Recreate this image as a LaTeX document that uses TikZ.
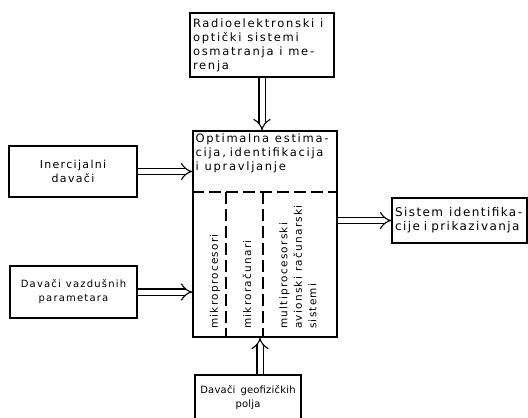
\documentclass[tikz,border=0pt]{standalone}
\usepackage{fontspec}
\newfontfamily\diafont[LetterSpace=12]{DejaVu Sans}
\newfontfamily\diafontsiroki[LetterSpace=15]{DejaVu Sans}
\newfontfamily\diafontuzak[LetterSpace=2]{DejaVu Sans}
\usetikzlibrary{arrows.meta, positioning}

\tikzset{
  tekst/.style={font=\diafont\fontsize{#1}{14}\selectfont},
  siroki/.style={font=\diafontsiroki\fontsize{#1}{14}\selectfont},
  blok/.style={draw, line width=1.2pt, inner sep=3pt, tekst=11},
  tok/.style={double, double distance=5pt, line width=1.1pt, -{Implies}},
  crta/.style={line width=1.2pt, dash pattern=on 12pt off 5pt},
  natpis/.style={rotate=90, anchor=west, align=left, inner sep=0pt,
    font=\diafont\fontsize{10.5}{14.5}\selectfont}
}

\begin{document}
\begin{tikzpicture}[x=1pt, y=-1pt]
  \useasboundingbox (0,0) rectangle (528,418);

  % blokovi
  \node[blok, siroki=11.5, text width=138pt, minimum height=64pt, align=left] (radio) at (262,45)
    {Radioelektronski\enspace i\\optički\enspace sistemi\\osmatranja\enspace i\enspace me-\\renja};
  \node[blok, minimum width=144pt, minimum height=206pt] (proc) at (265,234) {};
  \node[anchor=north west, inner sep=3pt, text width=138pt, align=left,
    siroki=11.5] (proctxt) at (proc.north west)
    {Optimalna\enspace estima-\\cija, identifikacija\\i\enspace upravljanje};
  \node[blok, minimum width=128pt, minimum height=51pt, align=center] (inerc) at (73,171.5)
    {Inercijalni\\davači};
  \node[blok, tekst=10, minimum width=127pt, minimum height=52pt, align=center] (vazd) at (73.5,292)
    {Davači\enspace vazdušnih\\parametara};
  \node[blok, tekst=12, text width=129pt, minimum height=45pt, align=left] (sistem) at (459.5,220.5)
    {Sistem\enspace identifika-\\cije i prikazivanja};
  \node[blok, font=\diafontuzak\fontsize{10}{14}\selectfont,
    minimum width=106pt, minimum height=46pt, align=center] (geof) at (248,398)
    {Davači\enspace geofizičkih\\polja};

  % podjela centralnog bloka
  \draw[crta] (proc.west |- 0,192) -- (proc.east |- 0,192);
  \draw[crta] (226,192) -- (proc.south -| 226,0);
  \draw[crta] (263,192) -- (proc.south -| 263,0);
  \node[natpis] (mproc) at (215,329) {mikroprocesori};
  \node[natpis] (mrac) at (247,329) {mikroračunari};
  \node[natpis] (multi) at (298,329) {multiprocesorski\\avionski\enspace računarski\\sistemi};

  % tokovi
  \draw[tok] (radio.south) -- (radio.south |- proc.north);
  \draw[tok] (inerc.east) -- (inerc.east -| proc.west);
  \draw[tok] (vazd.east) -- (vazd.east -| proc.west);
  \draw[tok] ([xshift=12pt]geof.north) -- ([xshift=12pt]geof.north |- proc.south);
  \draw[tok] (sistem.west -| proc.east) -- (sistem.west);

\end{tikzpicture}
\end{document}
